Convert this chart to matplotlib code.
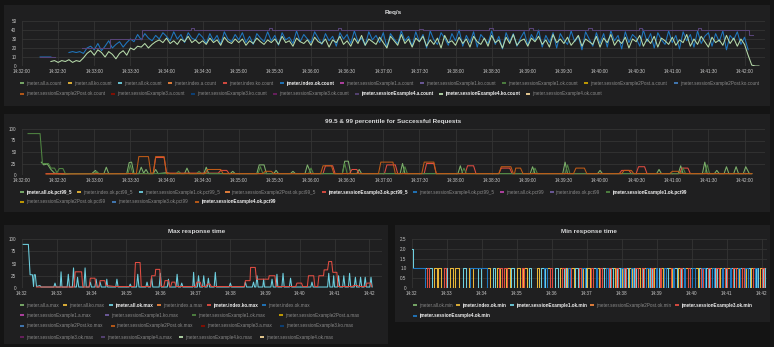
import numpy as np
import matplotlib
matplotlib.use("Agg")
import matplotlib.pyplot as plt
from matplotlib.patches import Rectangle
from matplotlib.lines import Line2D

plt.rcParams['font.family'] = ['Liberation Sans', 'DejaVu Sans']

nan = np.nan

# ---------------- DATA ----------------
# Panel 1: Req/s  (seconds after 14:32:00)
req_start_blue, req_step = 15, 3
index_ok_count = [10, 10, 10, 10, nan, nan, nan, nan, 15, 16, 15, 16, 14, 20, 22,
    18, 25, 17, 22, 28, 20, 24, 27, 21, 26,
    30, 27, 35, 29, 36, 31, 28, 34, 30, 37,
    33, 28, 38, 30, 35, 26, 37, 31, 29, 36,
    32, 25, 36, 28, 34, 24, 38, 30, 27, 35,
    29, 37, 26, 33, 24, 36, 31, 27, 38, 28,
    34, 23, 37, 29, 32, 25, 39, 27, 35, 30,
    26, 38, 31, 24, 36, 28, 33, 22, 37, 30,
    35, 25, 39, 27, 31, 23, 38, 29, 34, 26,
    37, 21, 36, 30, 25, 39, 28, 33, 22, 38,
    27, 35, 20, 39, 29, 24, 37, 31, 23, 36,
    28, 40, 22, 34, 26, 38, 21, 35, 30, 25,
    39, 24, 33, 19, 37, 27, 36, 22, 31, 38,
    23, 35, 28, 40, 21, 34, 26, 37, 20, 36,
    29, 24, 39, 27, 33, 18, 38, 30, 22, 37,
    25, 36, 21, 39, 28, 34, 19, 38, 26, 35,
    31, 22, 40, 27, 36, 20, 37, 29, 24, 39,
    26, 34, 19, 38, 28, 35, 21, 39, 25, 33,
    37, 22, 36, 27, 39, 18, 34, 29, 38, 24,
    32, 18]
req_start_green = 24
ex4_ko_count = [5, 6, 4, 6, 5, 7, 4, 6, 5, 9, 14, 17,
    12, 18, 15, 10, 16, 13, 8, 14, 17, 12,
    20, 18, 22, 21, 25, 20, 24, 27, 29, 26,
    31, 25, 28, 24, 30, 27, 33, 26, 29, 25,
    28, 24, 31, 26, 29, 23, 32, 27, 25, 30,
    26, 30, 23, 28, 25, 31, 27, 24, 29, 26,
    30, 24, 33, 26, 28, 22, 31, 27, 25, 29,
    23, 32, 27, 25, 30, 21, 29, 26, 33, 24,
    28, 22, 31, 25, 34, 23, 30, 27, 24, 32,
    26, 20, 33, 28, 23, 35, 25, 30, 21, 31,
    27, 33, 22, 29, 24, 31, 20, 34, 26, 28,
    23, 32, 25, 30, 21, 33, 27, 24, 31, 22,
    34, 26, 29, 20, 32, 25, 35, 23, 28, 30,
    22, 31, 27, 33, 24, 29, 21, 35, 26, 30,
    25, 32, 23, 28, 34, 22, 30, 27, 24, 33,
    21, 31, 26, 35, 23, 29, 25, 32, 20, 30,
    27, 34, 22, 30, 25, 33, 21, 31, 28, 24,
    32, 23, 29, 26, 35, 22, 30, 24, 33, 27,
    21, 32, 26, 29, 23, 34, 25, 31, 22, 30,
    24, 12, 1, 0, 0]
ex4_a_count_t = [15, 27, 50, 73, 100, 140, 143, 205, 208, 262, 265, 330, 333, 388, 391,
                 421, 424, 470, 473, 512, 515, 561, 564, 604, 607]
ex4_a_count_v = [10, nan, 20, 30, 40, 42, 40, 42, 40, 42, 40, 41, 40, 42, 40,
                 42, 40, 42, 40, 42, 40, 42, 40, 34, nan]

# Panel 2: percentiles (time, value)
all_ok_pct99_5 = [(16,28),(18,22),(21,24),(24,12),(27,4),(30,3),(34,2),(40,3),(58,3),(61,10),(63,3),
    (68,3),(70,17),(72,3),(87,3),(89,27),(91,28),(93,3),(97,3),(99,17),(101,4),(103,12),(105,3),
    (109,3),(111,12),(113,3),(120,5),(123,3),(135,3),(137,15),(139,3),(151,3),(153,17),(155,3),
    (173,3),(175,8),(177,3),(195,3),(197,22),(201,22),(203,3),(209,3),(211,10),(213,3),(223,3),
    (225,8),(227,3),(235,3),(237,22),(240,3),(266,3),(268,30),(271,30),(273,3),(278,3),(280,12),
    (282,3),(314,3),(316,25),(318,3),(362,3),(364,20),(366,3),(422,3),(424,18),(426,3),(449,3),
    (451,28),(453,3),(478,3),(480,10),(482,3),(527,3),(529,12),(531,3),(545,3),(547,20),(549,3),
    (565,3),(567,28),(569,3),(575,3),(577,10),(579,3),(583,3),(585,18),(587,3),(591,3),(593,18),
    (595,3),(599,3),(601,18),(604,3),(606,3)]
ex1_ok_pct99 = [(5,90),(15,90),(17,25),(22,25),(24,15),(27,15),(29,5),(31,14),(34,14),(36,3),
    (60,3),(62,8),(64,3),(88,3),(90,22),(92,3),(128,3),(130,8),(132,3),(145,3),(147,8),(149,3),
    (196,3),(198,18),(200,3),(238,3),(240,15),(242,3),(266,3),(268,25),(270,3),(316,3),(318,18),
    (320,3),(365,3),(367,15),(369,3),(424,3),(426,15),(428,3),(451,3),(453,22),(455,3),(547,3),
    (549,15),(551,3),(567,3),(569,22),(571,3),(606,3)]
ex4_ok_pct99 = [(20,2),(95,3),(97,40),(105,40),(107,4),(109,4),(111,40),(118,40),(120,3),(152,3),
    (154,12),(165,12),(167,3),(200,3),(202,8),(207,8),(209,3),(248,3),(250,20),(257,20),(259,3),
    (296,3),(298,28),(308,28),(310,3),(332,3),(334,28),(342,28),(344,3),(396,3),(398,18),(406,18),
    (408,3),(409,3),(410,15),(414,15),(416,3),(458,3),(460,15),(467,15),(469,3),(498,3),(500,10),
    (506,10),(508,3),(538,3),(540,8),(545,8),(547,3),(606,3)]
ex3_ok_pct99_5 = [(20,3),(109,3),(111,38),(118,38),(120,4),(163,4),(165,10),(170,10),(172,3),
    (250,3),(252,20),(258,20),(260,3),(272,3),(274,12),(278,12),(280,3),(301,3),(303,22),(310,22),
    (312,3),(334,3),(336,25),(342,25),(344,3),(368,3),(370,20),(375,20),(377,3),(396,3),(398,15),
    (405,15),(407,3),(496,3),(498,10),(504,10),(506,3),(510,3),(512,18),(517,18),(519,3),(546,3),
    (548,15),(553,15),(555,3),(606,3)]

# Panel 3: Max response time (time, value)
all_ok_max = [(2,89),(11,89),(14,27),(18,27),(20,3),(21,27),(23,27),(25,3),(31,5),(33,2),(55,2),
    (57,10),(59,2),(66,2),(67.5,33),(69,2),(78,2),(80,28),(82,2),(87,2),(89,41),(91,2),(94,2),
    (96,22),(98,2),(107,2),(109,41),(111,2),(116,2),(118,12),(120,2),(126,2),(128,18),(130,2),
    (133,2),(135,12),(137,2),(145,2),(146.5,18),(148,2),(162,2),(164,18),(166,2),(185,2),(187,8),
    (189,2),(198,2),(200,28),(202,2),(214,2),(216,12),(218,2),(222,2),(224,22),(226,2),(237,2),
    (239,30),(241,2),(251,2),(253,18),(255,2),(266,2),(268,28),(270,2),(274,2),(276,10),(278,2),
    (295,2),(296.5,32),(298,2),(303,2),(305,25),(307,2),(312,2),(314,25),(316,2),(320,2),(322,20),
    (324,2),(332,2),(334,32),(336,2),(358,2),(360,10),(362,2),(384,2),(386,12),(388,2),(398,2),
    (400,12),(402,2),(404,2),(406,25),(408,2),(416,2),(417.5,18),(419,2),(430,2),(432,18),(434,2),
    (439,2),(440.5,28),(442,2),(449,2),(451,30),(453,2),(462,2),(464,20),(466,2),(499,2),(501,12),
    (503,2),(528,2),(530,30),(532,2),(537,2),(538.5,25),(540,2),(545,2),(547,25),(549,2),(554,2),
    (556,25),(558,2),(564,2),(566,30),(568,2),(574,2),(576,22),(578,2),(583,2),(585,22),(587,2),
    (591,2),(593,22),(595,2),(601,2),(603,22),(605,2)]
index_ko_max = [(25,2),(90,2),(92,33),(103,33),(105,2),(116,2),(118,20),(126,20),(128,2),(133,2),
    (135,15),(143,15),(145,5),(160,3),(194,3),(196,52),(204,52),(206,3),(222,3),(224,25),(230,25),
    (231,38),(238,38),(240,3),(245,3),(247,15),(253,15),(255,3),(257,3),(259,12),(264,12),(266,3),
    (300,3),(302,12),(308,12),(310,3),(318,3),(320,8),(325,8),(327,3),(384,3),(386,15),(394,15),
    (395,42),(403,42),(405,18),(426,18),(427,25),(437,25),(439,3),(473,3),(475,10),(483,10),(485,3),
    (493,3),(495,25),(504,25),(506,3),(511,3),(513,25),(521,25),(522,37),(528,37),(530,54),(535,54),
    (537,32),(544,32),(546,3),(571,3),(573,5),(580,5),(582,3),(594,3),(596,10),(602,10),(604,3)]

# Panel 4: Min response time, pulses at value 1 (start, end) seconds
index_ok_min_pulses = [(37,43),(45,49),(65,71),(74,80),(97,105),(128,134),(145,151),(162,168),
    (180,186),(191,197),(214,218),(231,237),(254,260),(263,266),(272,278),(290,293),(300,306),
    (318,321),(330,336),(345,348),(356,361),(372,378),(388,391),(398,404),(415,420),(428,431),
    (440,446),(456,459),(468,474),(485,490),(500,503),(512,518),(528,531),(540,545),(556,561),
    (570,573),(582,588),(597,603)]
ex1_ok_min_pulses = [(55,60),(88,92),(113,119),(139,143),(170,175),(200,205),(222,228),(246,250),
    (260,264),(280,285),(296,299),(310,315),(326,329),(340,344),(352,356),(366,370),(380,385),
    (394,397),(408,412),(423,427),(436,439),(450,455),(462,466),(477,481),(492,496),(505,509),
    (520,524),(534,538),(548,552),(562,566),(576,580),(590,594),(602,606)]
ex3_ok_min_pulses = [(25,30),(55,58),(150,155),(158,163),(188,192),(236,240),(258,262),(268,272),
    (286,290),(307,311),(323,326),(338,342),(350,353),(363,367),(383,387),(395,398),(410,414),
    (425,428),(445,449),(460,464),(473,477),(495,499),(508,512),(522,526),(537,540),(551,555),
    (566,570),(585,589),(600,604)]
ex4_ok_min_pulses = [(100,128),(226,231),(268,271),(292,296),(315,318),(333,336),(358,362),
    (376,379),(402,406),(418,421),(432,436),(447,450),(466,469),(481,485),(498,502),(515,518),
    (531,534),(545,548),(560,563),(572,576),(588,592)]
ex1_ok_min_start = [(0, 2), (2, 1), (34, 0)]
ex4_ok_min_start = [(2, 1), (23, 0)]
min_end = 603

# Tick labels
ticks_long = ["14:32:00", "14:32:30", "14:33:00", "14:33:30", "14:34:00", "14:34:30", "14:35:00",
              "14:35:30", "14:36:00", "14:36:30", "14:37:00", "14:37:30", "14:38:00", "14:38:30",
              "14:39:00", "14:39:30", "14:40:00", "14:40:30", "14:41:00", "14:41:30", "14:42:00"]
ticks_short = ["14:32", "14:33", "14:34", "14:35", "14:36", "14:37", "14:38", "14:39", "14:40",
               "14:41", "14:42"]

# Legends: (label, colour, active)
legend_req = [
    [("jmeter.all.a.count", "#7EB26D", 0), ("jmeter.all.ko.count", "#EAB839", 0),
     ("jmeter.all.ok.count", "#6ED0E0", 0), ("jmeter.index.a.count", "#EF843C", 0),
     ("jmeter.index.ko.count", "#E24D42", 0), ("jmeter.index.ok.count", "#1F78C1", 1),
     ("jmeter.sessionExample1.a.count", "#BA43A9", 0), ("jmeter.sessionExample1.ko.count", "#705DA0", 0),
     ("jmeter.sessionExample1.ok.count", "#508642", 0), ("jmeter.sessionExample2Post.a.count", "#CCA300", 0),
     ("jmeter.sessionExample2Post.ko.count", "#447EBC", 0)],
    [("jmeter.sessionExample2Post.ok.count", "#C15C17", 0), ("jmeter.sessionExample3.a.count", "#890F02", 0),
     ("jmeter.sessionExample3.ko.count", "#0A437C", 0), ("jmeter.sessionExample3.ok.count", "#6D1F62", 0),
     ("jmeter.sessionExample4.a.count", "#584477", 1), ("jmeter.sessionExample4.ko.count", "#B7DBAB", 1),
     ("jmeter.sessionExample4.ok.count", "#F4D598", 0)]]
legend_pct = [
    [("jmeter.all.ok.pct99_5", "#7EB26D", 1), ("jmeter.index.ok.pct99_5", "#EAB839", 0),
     ("jmeter.sessionExample1.ok.pct99_5", "#6ED0E0", 0), ("jmeter.sessionExample2Post.ok.pct99_5", "#EF843C", 0),
     ("jmeter.sessionExample3.ok.pct99_5", "#E24D42", 1), ("jmeter.sessionExample4.ok.pct99_5", "#1F78C1", 0),
     ("jmeter.all.ok.pct99", "#BA43A9", 0), ("jmeter.index.ok.pct99", "#705DA0", 0),
     ("jmeter.sessionExample1.ok.pct99", "#508642", 1)],
    [("jmeter.sessionExample2Post.ok.pct99", "#CCA300", 0), ("jmeter.sessionExample3.ok.pct99", "#447EBC", 0),
     ("jmeter.sessionExample4.ok.pct99", "#C15C17", 1)]]
legend_max = [
    [("jmeter.all.a.max", "#7EB26D", 0), ("jmeter.all.ko.max", "#EAB839", 0),
     ("jmeter.all.ok.max", "#6ED0E0", 1), ("jmeter.index.a.max", "#EF843C", 0),
     ("jmeter.index.ko.max", "#E24D42", 1), ("jmeter.index.ok.max", "#1F78C1", 0)],
    [("jmeter.sessionExample1.a.max", "#BA43A9", 0), ("jmeter.sessionExample1.ko.max", "#705DA0", 0),
     ("jmeter.sessionExample1.ok.max", "#508642", 0), ("jmeter.sessionExample2Post.a.max", "#CCA300", 0)],
    [("jmeter.sessionExample2Post.ko.max", "#447EBC", 0), ("jmeter.sessionExample2Post.ok.max", "#C15C17", 0),
     ("jmeter.sessionExample3.a.max", "#890F02", 0), ("jmeter.sessionExample3.ko.max", "#0A437C", 0)],
    [("jmeter.sessionExample3.ok.max", "#6D1F62", 0), ("jmeter.sessionExample4.a.max", "#584477", 0),
     ("jmeter.sessionExample4.ko.max", "#B7DBAB", 0), ("jmeter.sessionExample4.ok.max", "#F4D598", 0)]]
legend_min = [
    [("jmeter.all.ok.min", "#7EB26D", 0), ("jmeter.index.ok.min", "#EAB839", 1),
     ("jmeter.sessionExample1.ok.min", "#6ED0E0", 1), ("jmeter.sessionExample2Post.ok.min", "#EF843C", 0),
     ("jmeter.sessionExample3.ok.min", "#E24D42", 1)],
    [("jmeter.sessionExample4.ok.min", "#1F78C1", 1)]]

# ---------------- FIGURE ----------------
W, H = 774, 347
fig = plt.figure(figsize=(W / 100, H / 100), dpi=100)
BG = '#141414'
PANEL = '#1f1f20'
GRID = '#343434'
TXT = '#c8c8c8'
fig.patch.set_facecolor(BG)

for (x0, y0, x1, y1) in [(4, 5, 770, 106), (4, 114, 770, 212), (4, 225, 388, 344), (395, 225, 770, 322)]:
    fig.patches.append(Rectangle((x0 / W, 1 - y1 / H), (x1 - x0) / W, (y1 - y0) / H,
                                 transform=fig.transFigure, facecolor=PANEL, edgecolor='none', zorder=-10))


def make_ax(x0, y0, x1, y1):
    ax = fig.add_axes([x0 / W, 1 - y1 / H, (x1 - x0) / W, (y1 - y0) / H])
    ax.set_zorder(1)
    ax.patch.set_visible(False)
    for s in ax.spines.values():
        s.set_visible(False)
    ax.grid(True, color=GRID, lw=0.6)
    ax.set_axisbelow(True)
    ax.tick_params(length=0, labelsize=3.3, colors=TXT, pad=4)
    ax.tick_params(axis='x', pad=2.5)
    return ax


def pairs(p):
    return [a for a, b in p], [b for a, b in p]


def pulses_to_steps(pulses, start, end):
    t = [a for a, b in start]
    v = [b for a, b in start]
    for a, b in pulses:
        t += [a, b]
        v += [1, 0]
    t.append(end)
    v.append(0)
    return t, v


LW = 0.75

# Panel 1
ax1 = make_ax(22, 21, 765, 66)
tb = req_start_blue + req_step * np.arange(len(index_ok_count))
tg = req_start_green + req_step * np.arange(len(ex4_ko_count))
ax1.plot(tb, index_ok_count, color='#1F78C1', lw=LW)
ax1.step(ex4_a_count_t, ex4_a_count_v, where='post', color='#584477', lw=LW)
ax1.plot(tg, ex4_ko_count, color='#B7DBAB', lw=LW)
ax1.set_xlim(0, 617)
ax1.set_ylim(0, 50)
ax1.set_yticks([0, 10, 20, 30, 40, 50])
ax1.set_yticklabels(["0", "10", "20", "30", "40", "50"])
ax1.set_xticks(np.arange(0, 601, 30))
ax1.set_xticklabels(ticks_long)

# Panel 2
ax2 = make_ax(22, 129, 765, 175)
for data, col in [(all_ok_pct99_5, '#7EB26D'), (ex3_ok_pct99_5, '#E24D42'),
                  (ex1_ok_pct99, '#508642'), (ex4_ok_pct99, '#C15C17')]:
    t, v = pairs(data)
    ax2.plot(t, v, color=col, lw=LW)
ax2.set_xlim(0, 617)
ax2.set_ylim(0, 100)
ax2.set_yticks([0, 25, 50, 75, 100])
ax2.set_yticklabels(["0", "25", "50", "75", "100"])
ax2.set_xticks(np.arange(0, 601, 30))
ax2.set_xticklabels(ticks_long)

# Panel 3
ax3 = make_ax(22, 239, 382, 288)
for data, col in [(all_ok_max, '#6ED0E0'), (index_ko_max, '#E24D42')]:
    t, v = pairs(data)
    ax3.plot(t, v, color=col, lw=LW)
ax3.set_xlim(0, 622)
ax3.set_ylim(0, 100)
ax3.set_yticks([0, 25, 50, 75, 100])
ax3.set_yticklabels(["0", "25", "50", "75", "100"])
ax3.set_xticks(np.arange(0, 601, 60))
ax3.set_xticklabels(ticks_short)

# Panel 4
ax4 = make_ax(412, 239, 767, 288)
for pul, start, col in [(index_ok_min_pulses, [(37, 0)], '#EAB839'),
                        (ex1_ok_min_pulses, ex1_ok_min_start, '#6ED0E0'),
                        (ex3_ok_min_pulses, [(25, 0)], '#E24D42'),
                        (ex4_ok_min_pulses, ex4_ok_min_start, '#1F78C1')]:
    t, v = pulses_to_steps(pul, start, min_end)
    ax4.step(t, v, where='post', color=col, lw=LW)
ax4.set_xlim(0, 609)
ax4.set_ylim(0, 2.5)
ax4.set_yticks([0, 0.5, 1.0, 1.5, 2.0, 2.5])
ax4.set_yticklabels(["0", "0.5", "1.0", "1.5", "2.0", "2.5"])
ax4.set_xticks(np.arange(0, 601, 60))
ax4.set_xticklabels(ticks_short)

# Titles
TITLE = '#d8d9da'
for x, y, s in [(393, 12.5, "Req/s"), (393, 122, "99.5 & 99 percentile for Successful Requests"),
                (197, 231, "Max response time"), (589, 231, "Min response time")]:
    fig.text(x / W, 1 - y / H, s, ha='center', va='center', fontsize=4.6, fontweight='bold', color=TITLE)

# Legends
renderer = fig.canvas.get_renderer()


def draw_legend(rows, x0, ys, row_ends, fs=3.3):
    for row, y, xend in zip(rows, ys, row_ends):
        texts, widths = [], []
        for name, col, act in row:
            t = fig.text(0, 1 - y / H, name, fontsize=fs, va='center', ha='left',
                         color='#f0f0f0' if act else '#8a8a8a',
                         fontweight='bold' if act else 'normal')
            texts.append(t)
            widths.append(t.get_window_extent(renderer).width)
        n = len(row)
        gap = 6.0
        if n > 1:
            gap = (xend - x0 - sum(widths) - 6 * n) / (n - 1)
            gap = min(max(gap, 3.0), 14.0)
        x = x0
        for (name, col, act), t, w in zip(row, texts, widths):
            fig.add_artist(Line2D([x / W, (x + 4) / W], [1 - y / H] * 2, transform=fig.transFigure,
                                  color=col, lw=1.3, solid_capstyle='butt'))
            t.set_x((x + 6) / W)
            x += 6 + w + gap


draw_legend(legend_req, 20, [83, 94], [759, 602])
draw_legend(legend_pct, 20, [192, 202], [686, 275])
draw_legend(legend_max, 20, [305, 315, 326, 337], [310, 360, 353, 333])
draw_legend(legend_min, 413, [305, 316], [752, 487])

fig.savefig("out.png", dpi=100, facecolor=BG)
